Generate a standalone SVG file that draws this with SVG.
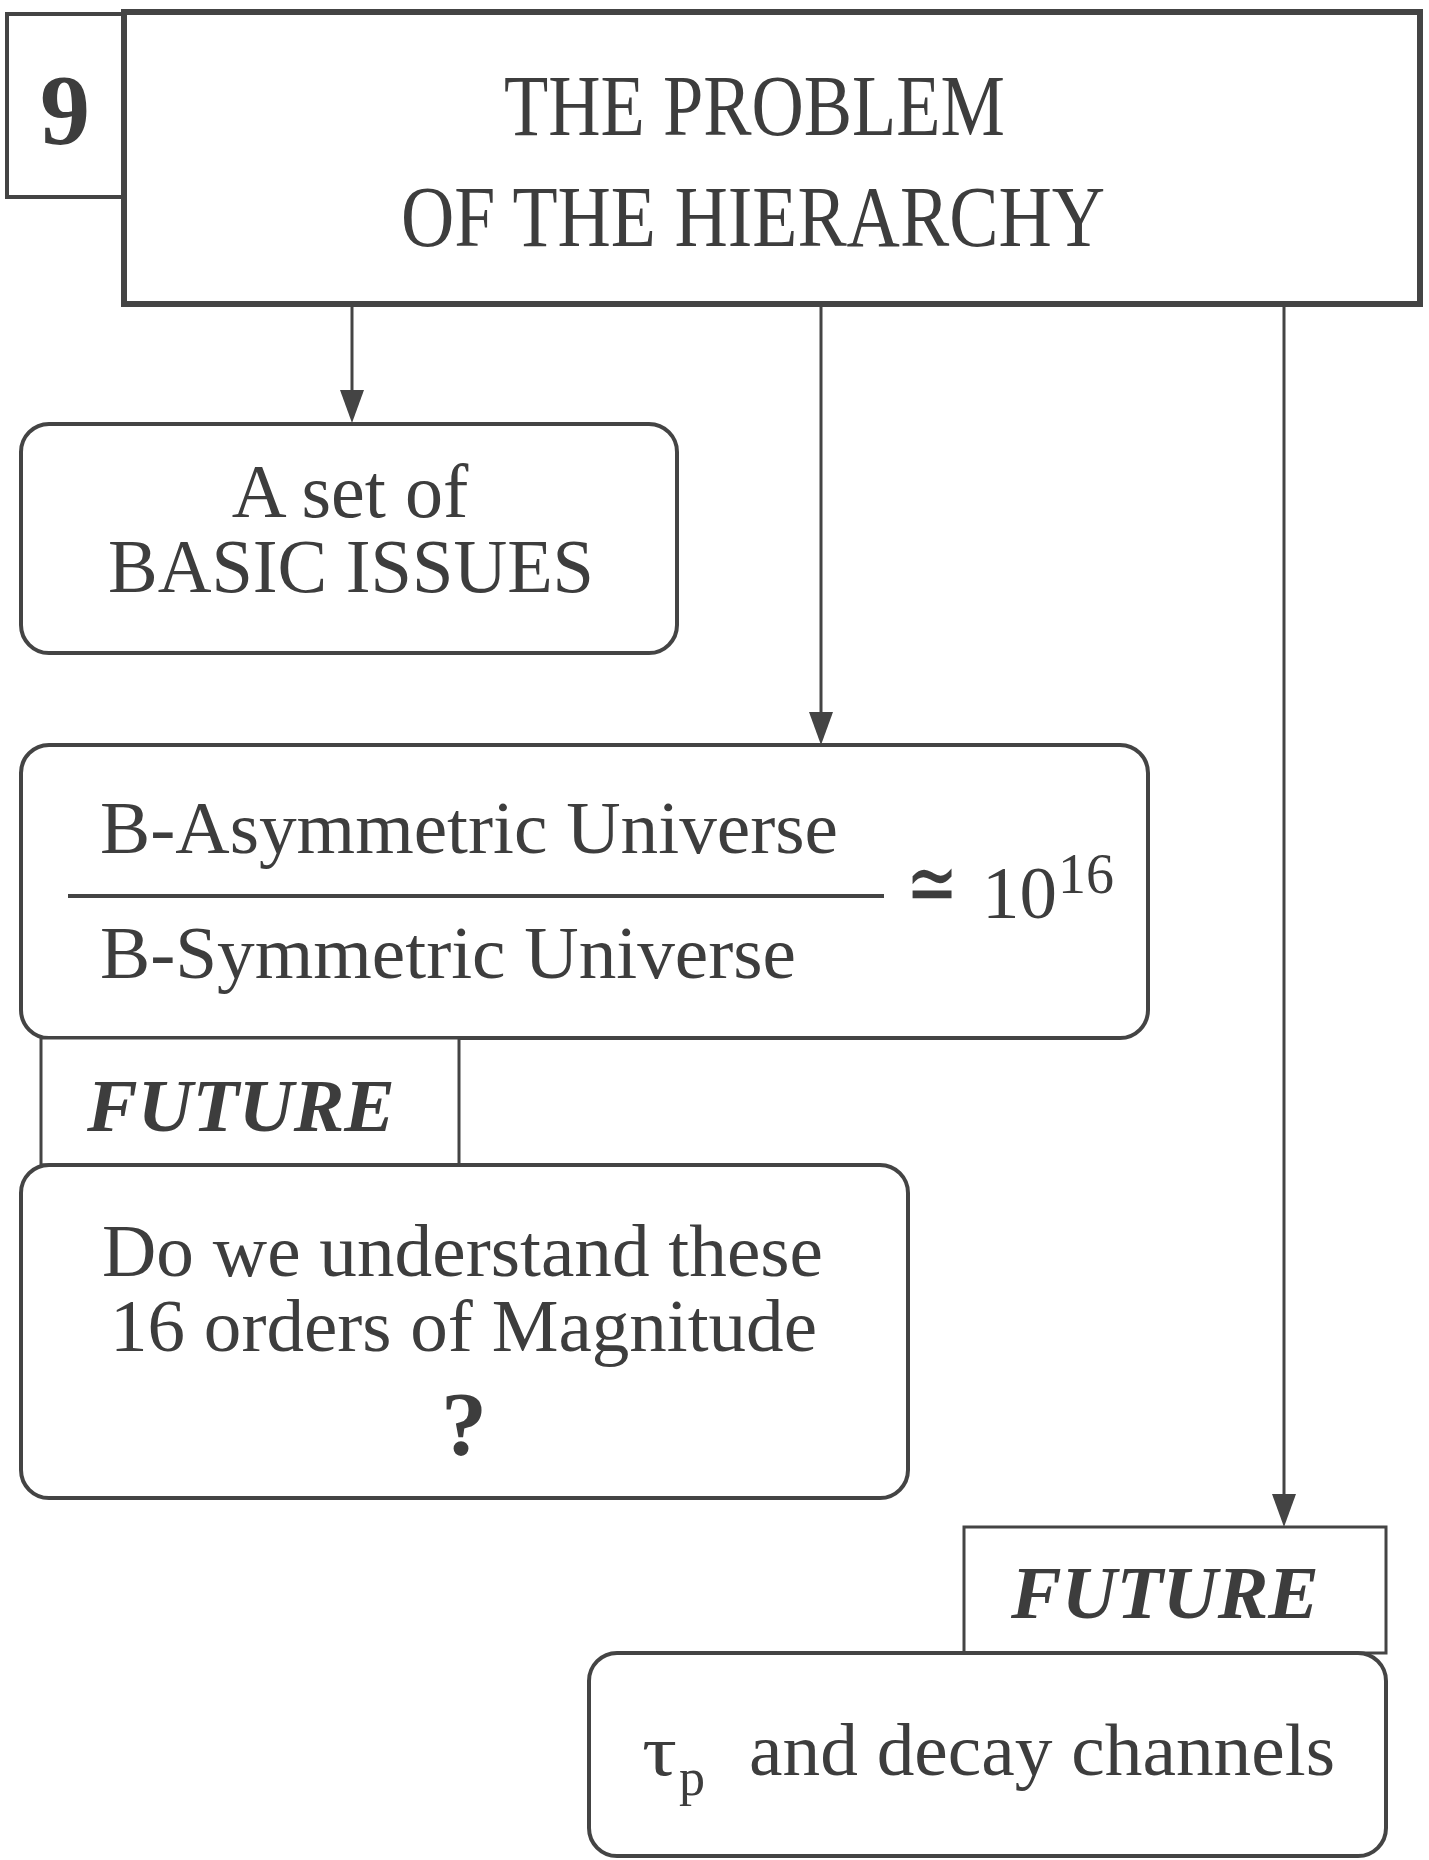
<svg xmlns="http://www.w3.org/2000/svg" width="1429" height="1860" viewBox="0 0 1429 1860">
<style>
.box{fill:#fff;stroke:#444;stroke-width:4}
.thin{fill:#fff;stroke:#444;stroke-width:3}
.t{font-family:"Liberation Serif","Times New Roman",serif;fill:#3d3d3d}
.c{text-anchor:middle}
.conn{stroke:#444;stroke-width:3;fill:none}
.head{fill:#444}
</style>
<rect width="1429" height="1860" fill="#fff"/>
<g id="connectors">
<path class="conn" d="M352,305 V390"/>
<path class="head" d="M340,390 L364,390 L352,423 Z"/>
<path class="conn" d="M821,305 V712"/>
<path class="head" d="M809,712 L833,712 L821,745 Z"/>
<path class="conn" d="M1284,305 V1494"/>
<path class="head" d="M1272,1494 L1296,1494 L1284,1527 Z"/>
</g>
<g id="num9">
<rect class="box" x="7" y="14" width="117" height="183"/>
<text class="t c" x="65" y="143" font-size="100" font-weight="bold">9</text>
</g>
<g id="title">
<rect x="124" y="12" width="1296" height="292" fill="#fff" stroke="#444" stroke-width="6"/>
<text class="t" x="504" y="135" font-size="86" textLength="501" lengthAdjust="spacingAndGlyphs">THE PROBLEM</text>
<text class="t" x="401" y="246" font-size="86" textLength="704" lengthAdjust="spacingAndGlyphs">OF THE HIERARCHY</text>
</g>
<g id="basic">
<rect class="box" x="21" y="424" width="656" height="229" rx="28"/>
<text class="t c" x="350" y="517" font-size="76">A set of</text>
<text class="t" x="108" y="592" font-size="76" textLength="486" lengthAdjust="spacingAndGlyphs">BASIC ISSUES</text>
</g>
<g id="ratio">
<rect class="box" x="21" y="745" width="1127" height="293" rx="28"/>
<text class="t" x="100" y="853" font-size="75" textLength="738" lengthAdjust="spacingAndGlyphs">B-Asymmetric Universe</text>
<line x1="68" y1="896" x2="884" y2="896" stroke="#444" stroke-width="4"/>
<text class="t" x="100" y="978" font-size="75" textLength="696" lengthAdjust="spacingAndGlyphs">B-Symmetric Universe</text>
<text class="t" x="906" y="914" font-size="92" textLength="52" lengthAdjust="spacingAndGlyphs">≃</text>
<text class="t" x="982" y="918" font-size="75">10</text>
<text class="t" x="1058" y="893" font-size="56">16</text>
</g>
<g id="future1">
<rect class="thin" x="41" y="1038" width="418" height="127"/>
<text class="t" x="87" y="1131" font-size="75" font-weight="bold" font-style="italic" textLength="308" lengthAdjust="spacingAndGlyphs">FUTURE</text>
</g>
<g id="question">
<rect class="box" x="21" y="1165" width="887" height="333" rx="28"/>
<text class="t" x="102" y="1276" font-size="75" textLength="721" lengthAdjust="spacingAndGlyphs">Do we understand these</text>
<text class="t" x="110" y="1351" font-size="75" textLength="707" lengthAdjust="spacingAndGlyphs">16 orders of Magnitude</text>
<text class="t c" x="464" y="1455" font-size="92" font-weight="bold">?</text>
</g>
<g id="future2">
<rect class="thin" x="964" y="1527" width="422" height="126"/>
<text class="t" x="1011" y="1618" font-size="75" font-weight="bold" font-style="italic" textLength="308" lengthAdjust="spacingAndGlyphs">FUTURE</text>
</g>
<g id="decay">
<rect class="box" x="589" y="1653" width="797" height="203" rx="28"/>
<text class="t" x="642" y="1775" font-size="72" textLength="35" lengthAdjust="spacingAndGlyphs">τ</text>
<text class="t" x="679" y="1795" font-size="52">p</text>
<text class="t" x="749" y="1775" font-size="75" textLength="586" lengthAdjust="spacingAndGlyphs">and decay channels</text>
</g>
</svg>
